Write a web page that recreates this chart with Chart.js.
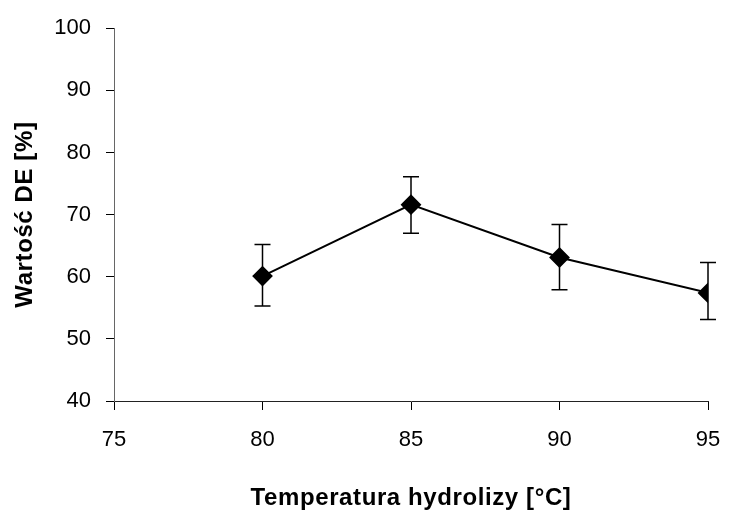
<!DOCTYPE html>
<html>
<head>
<meta charset="utf-8">
<script src="https://cdn.jsdelivr.net/npm/chart.js@4"></script>
<style>
  html, body { margin: 0; padding: 0; background: #fff; }
  #wrap { width: 756px; height: 513px; }
</style>
</head>
<body>
<div id="wrap"><canvas id="chart" width="756" height="513"></canvas></div>
<script>
// Data
const temperatures = [80, 85, 90, 95];
const deValues = [60.1, 71.6, 63.1, 57.4];
const errUpper = [65.2, 76.1, 68.4, 62.3];
const errLower = [55.3, 67.0, 57.9, 53.1];

const xTicks = [75, 80, 85, 90, 95];
const yTicks = [40, 50, 60, 70, 80, 90, 100];

const FONT = "'Liberation Sans', Arial, sans-serif";

// Draw error bars under the markers
const errorBars = {
  id: 'errorBars',
  beforeDatasetsDraw: function(chart) {
    const ctx = chart.ctx;
    const xs = chart.scales.x;
    const ys = chart.scales.y;
    const cap = 8;
    ctx.save();
    ctx.strokeStyle = '#000';
    ctx.lineWidth = 1.5;
    temperatures.forEach(function(t, i) {
      const px = xs.getPixelForValue(t);
      const top = ys.getPixelForValue(errUpper[i]);
      const bot = ys.getPixelForValue(errLower[i]);
      ctx.beginPath();
      ctx.moveTo(px, top);
      ctx.lineTo(px, bot);
      ctx.moveTo(px - cap, top);
      ctx.lineTo(px + cap, top);
      ctx.moveTo(px - cap, bot);
      ctx.lineTo(px + cap, bot);
      ctx.stroke();
    });
    ctx.restore();
  }
};

// Axis titles in the reference are a little wider, add letter spacing
const spacedTitles = {
  id: 'spacedTitles',
  afterLayout: function(chart) {
    Object.values(chart.scales).forEach(function(scale) {
      if (scale._spaced) return;
      const orig = scale.drawTitle;
      scale.drawTitle = function() {
        this.ctx.save();
        this.ctx.letterSpacing = '0.6px';
        orig.apply(this, arguments);
        this.ctx.restore();
      };
      scale._spaced = true;
    });
  }
};

const ctx = document.getElementById('chart').getContext('2d');

const chart = new Chart(ctx, {
  type: 'line',
  data: {
    datasets: [{
      data: temperatures.map((t, i) => ({ x: t, y: deValues[i] })),
      borderColor: '#000',
      backgroundColor: '#000',
      borderWidth: 2,
      pointStyle: 'rectRot',
      pointRadius: 9,
      pointHoverRadius: 9,
      tension: 0
    }]
  },
  options: {
    responsive: false,
    animation: false,
    layout: { padding: { top: 25, right: 48, bottom: 0, left: 0 } },
    plugins: {
      legend: { display: false },
      tooltip: { enabled: false }
    },
    scales: {
      x: {
        type: 'linear',
        min: 75,
        max: 95,
        afterBuildTicks: function(scale) {
          scale.ticks = xTicks.map(v => ({ value: v }));
        },
        afterFit: function(scale) { scale.height = 112; },
        grid: { drawOnChartArea: false, drawTicks: true, tickLength: 9, color: '#000' },
        border: { color: '#222', width: 1 },
        ticks: { color: '#000', padding: 17, font: { family: FONT, size: 22 } },
        title: {
          display: true,
          text: 'Temperatura hydrolizy [°C]',
          color: '#000',
          padding: { top: 2, bottom: 0 },
          font: { family: FONT, size: 24, weight: 'bold' }
        }
      },
      y: {
        min: 40,
        max: 100,
        afterBuildTicks: function(scale) {
          scale.ticks = yTicks.map(v => ({ value: v }));
        },
        afterFit: function(scale) { scale.width = 114; },
        grid: { drawOnChartArea: false, drawTicks: true, tickLength: 8, color: '#000' },
        border: { color: '#666', width: 1 },
        ticks: { color: '#000', padding: 15, font: { family: FONT, size: 22 } },
        title: {
          display: true,
          text: 'Wartość DE [%]',
          color: '#000',
          padding: { top: 11, bottom: 0 },
          font: { family: FONT, size: 24, weight: 'bold' }
        }
      }
    }
  },
  plugins: [errorBars, spacedTitles]
});
</script>
</body>
</html>
